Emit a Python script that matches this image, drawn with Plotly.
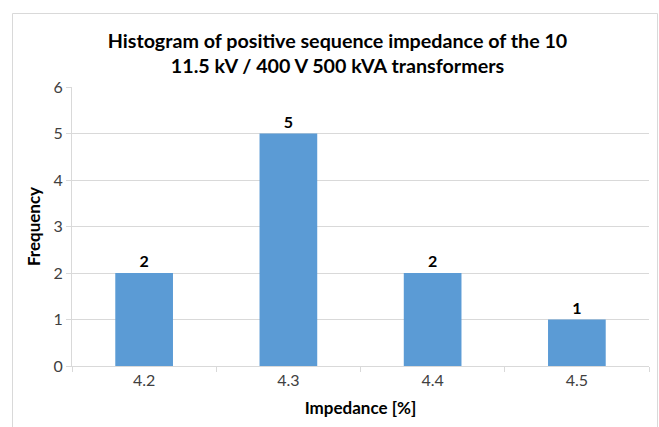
import plotly.graph_objects as go

categories = ["4.2", "4.3", "4.4", "4.5"]
frequency = [2, 5, 2, 1]
y_ticks = [0, 1, 2, 3, 4, 5, 6]

W, H = 659, 427
L, R, T, B = 72, 10, 87, 61
pw, ph = W - L - R, H - T - B

def px_x(x):
    return (x - L) / pw

def px_y(y):
    return (H - B - y) / ph

fig = go.Figure(go.Bar(
    x=categories, y=frequency,
    marker=dict(color="#5B9BD5", line=dict(width=0)),
    width=0.4,
    text=["<b>%d</b>" % v for v in frequency], textposition="outside",
    textfont=dict(family="Lato", size=16, color="#000000"),
    cliponaxis=False,
))

fig.update_layout(
    width=W, height=H,
    margin=dict(l=L, r=R, t=T, b=B, pad=0),
    paper_bgcolor="white", plot_bgcolor="white",
    font=dict(family="Lato", color="#404040", size=16),
    title=dict(
        text="<b>Histogram of positive sequence impedance of the 10<br>11.5 kV / 400 V 500 kVA transformers</b>",
        x=px_x(337.5), xref="paper", xanchor="center", y=1 - 47.5 / H, yanchor="middle",
        font=dict(family="Lato", size=19.7, color="#000000"),
    ),
    showlegend=False,
    shapes=[dict(type="rect", xref="paper", yref="paper",
                 x0=px_x(12.5), x1=px_x(657.5), y0=px_y(440), y1=px_y(13.5),
                 line=dict(color="#D9D9D9", width=1), layer="below")],
)

fig.update_xaxes(
    type="category", automargin=False,
    showline=True, linecolor="#D9D9D9", linewidth=1,
    ticks="outside", tickcolor="#D9D9D9", ticklen=5,
    tickson="boundaries",
    tickfont=dict(size=16, color="#404040"),
    title=dict(text="<b>Impedance [%]</b>", font=dict(size=17, color="#000000"), standoff=13),
    showgrid=False,
)
fig.update_yaxes(
    range=[0, 6], tickvals=y_ticks, automargin=False,
    showgrid=True, gridcolor="#D9D9D9", gridwidth=1,
    showline=True, linecolor="#D9D9D9", linewidth=1,
    ticks="outside", tickcolor="#D9D9D9", ticklen=5,
    tickfont=dict(size=16, color="#404040"),
    title=dict(text="<b>Frequency</b>", font=dict(size=17, color="#000000"), standoff=8),
    zeroline=False,
)

fig.write_html("out.html", config={"displayModeBar": False},
               post_script="document.body.style.margin='0';")
